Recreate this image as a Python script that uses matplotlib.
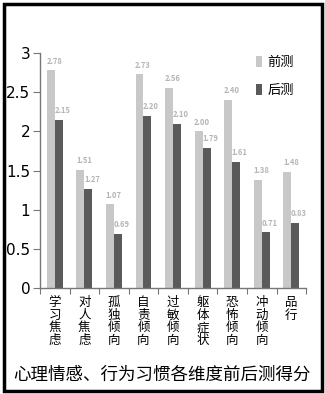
import matplotlib
matplotlib.use("Agg")
import matplotlib.pyplot as plt
import numpy as np
from matplotlib.patches import Rectangle

plt.rcParams['font.family'] = ['Noto Sans CJK SC', 'DejaVu Sans']

categories = ["学习焦虑", "对人焦虑", "孤独倾向", "自责倾向", "过敏倾向",
              "躯体症状", "恐怖倾向", "冲动倾向", "品行"]
pre_test = [2.78, 1.51, 1.07, 2.73, 2.56, 2.00, 2.40, 1.38, 1.48]
post_test = [2.15, 1.27, 0.69, 2.20, 2.10, 1.79, 1.61, 0.71, 0.83]
series_names = ["前测", "后测"]
yticks = [0, 0.5, 1, 1.5, 2, 2.5, 3]
title = "心理情感、行为习惯各维度前后测得分"

fig = plt.figure(figsize=(3.25, 3.94), dpi=100)
fig.patch.set_facecolor("white")
fig.add_artist(Rectangle((0.012, 0.008), 0.978, 0.982, transform=fig.transFigure,
                         fill=False, edgecolor="black", linewidth=2.5))

ax = fig.add_axes([0.123, 0.269, 0.819, 0.596])
x = np.arange(len(categories))
w = 0.27
light, dark = "#c8c8c8", "#5a5a5a"
ax.bar(x - w / 2, pre_test, w, color=light, label=series_names[0])
ax.bar(x + w / 2, post_test, w, color=dark, label=series_names[1])

for xs, vals in ((x - w / 2, pre_test), (x + w / 2, post_test)):
    for xi, v in zip(xs, vals):
        ax.text(xi + 0.12, v + 0.06, f"{v:.2f}", ha="center", va="bottom",
                fontsize=5.5, color="#b5b5b5", fontweight="bold")

ax.set_xlim(-0.5, len(categories) - 0.5)
ax.set_ylim(0, 3)
ax.set_yticks(yticks)
ax.set_yticklabels([f"{t:g}" for t in yticks], fontsize=11, family="DejaVu Sans")
ax.set_xticks(np.arange(len(categories) + 1) - 0.5)
ax.set_xticklabels([])
ax.tick_params(axis="x", length=4, direction="out", color="#777777")
ax.tick_params(axis="y", length=5, direction="out", color="#777777", pad=2)
for s in ("top", "right"):
    ax.spines[s].set_visible(False)
for s in ("left", "bottom"):
    ax.spines[s].set_color("#777777")
    ax.spines[s].set_linewidth(1.0)

for xi, name in zip(x, categories):
    ax.text(xi, -0.035, "\n".join(name), transform=ax.get_xaxis_transform(),
            ha="center", va="top", fontsize=9, linespacing=0.95)

ax.legend(loc="upper right", bbox_to_anchor=(1.0, 1.04), frameon=False,
          fontsize=9.5, handlelength=0.5, handleheight=1.0, handletextpad=0.4,
          labelspacing=1.1)

fig.text(0.5, 0.048, title, ha="center", va="center", fontsize=12.6)

fig.savefig("out.png", dpi=100, facecolor="white")
